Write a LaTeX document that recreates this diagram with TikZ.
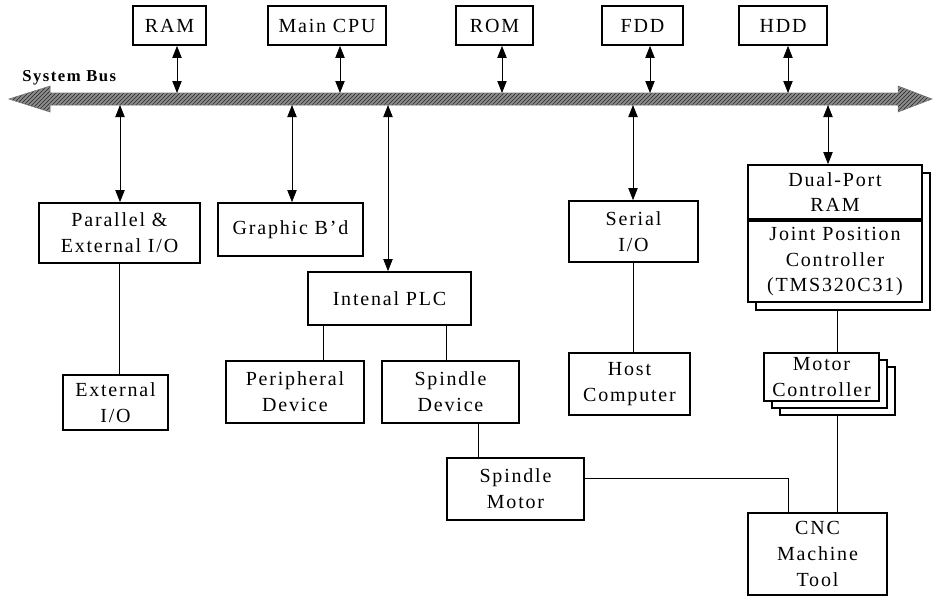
\documentclass[tikz,border=0pt]{standalone}
\usepackage{fontspec}
\setmainfont{Liberation Serif}[LetterSpace=9]
\usetikzlibrary{arrows.meta,patterns}
\newcommand\bx[6]{\node[box, minimum width={(#4-#2)*0.75pt}, minimum height={(#5-#3)*0.75pt}] (#1) at ({(#2+#4)/2},{(#3+#5)/2}) {#6};}
\begin{document}
\begin{tikzpicture}[x=0.75pt,y=-0.75pt,
  box/.style={draw, line width=1.3pt, fill=white, inner sep=0pt, align=center, font=\fontsize{15}{19.3}\selectfont},
  shadowbox/.style={draw, line width=1.3pt, fill=white},
  dbl/.style={line width=0.6pt, {Triangle[length=9pt,width=7pt]}-{Triangle[length=9pt,width=7pt]}},
  wire/.style={line width=0.6pt},
  buslabel/.style={font=\bfseries\fontsize{12.5}{14}\selectfont, anchor=west, inner sep=0pt},
]
\useasboundingbox (0,0) rectangle (937,597);

% system bus
\fill[black!45] (9,99) -- (50,86) -- (50,93) -- (898,93) -- (898,86) -- (932,99) -- (898,112) -- (898,105) -- (50,105) -- (50,112) -- cycle;
\fill[pattern=north east lines, pattern color=black!85] (9,99) -- (50,86) -- (50,93) -- (898,93) -- (898,86) -- (932,99) -- (898,112) -- (898,105) -- (50,105) -- (50,112) -- cycle;
\draw[black!55, line width=0.4pt] (9,99) -- (50,86) -- (50,93) -- (898,93) -- (898,86) -- (932,99) -- (898,112) -- (898,105) -- (50,105) -- (50,112) -- cycle;
\node[buslabel] (bl) at (22,78) {System Bus};

% bus taps
\coordinate (tRAM) at (177,93);
\coordinate (tCPU) at (340,93);
\coordinate (tROM) at (502,93);
\coordinate (tFDD) at (650,93);
\coordinate (tHDD) at (788,93);
\coordinate (bPAR) at (120,105);
\coordinate (bGFX) at (292,105);
\coordinate (bPLC) at (388,105);
\coordinate (bSER) at (633,105);
\coordinate (bDP) at (828,105);

% top boxes
\bx{ram}{133}{6}{206}{45}{RAM}
\bx{cpu}{268}{6}{386}{45}{Main CPU}
\bx{rom}{456}{6}{533}{45}{ROM}
\bx{fdd}{602}{6}{683}{45}{FDD}
\bx{hdd}{739}{6}{827}{45}{HDD}

\draw[dbl] (ram.south -| tRAM) -- (tRAM);
\draw[dbl] (cpu.south -| tCPU) -- (tCPU);
\draw[dbl] (rom.south -| tROM) -- (tROM);
\draw[dbl] (fdd.south -| tFDD) -- (tFDD);
\draw[dbl] (hdd.south -| tHDD) -- (tHDD);

% lower boxes
\bx{par}{39}{203}{200}{263}{Parallel \&\\External I/O}
\bx{gfx}{218}{203}{363}{256}{Graphic B'd}
\bx{ext}{63}{375}{168}{430}{External\\I/O}
\bx{plc}{308}{272}{471}{325}{Intenal PLC}
\bx{per}{226}{361}{364}{423}{Peripheral\\Device}
\bx{spd}{382}{361}{519}{423}{Spindle\\Device}
\bx{mot}{447}{458}{584}{520}{Spindle\\Motor}
\bx{ser}{569}{201}{698}{262}{Serial\\I/O}
\bx{host}{569}{353}{690}{415}{Host\\Computer}

% dual-port + joint controller stack
\draw[shadowbox] (756,173) rectangle (930,310);
\bx{dp}{748}{165}{922}{219}{Dual-Port\\RAM}
\bx{jpc}{748}{221}{922}{302}{Joint Position\\Controller\\(TMS320C31)}

% motor controller stack
\draw[shadowbox] (780,367) rectangle (895,415);
\draw[shadowbox] (772,360) rectangle (887,408);
\bx{mc}{764}{353}{879}{401}{Motor\\Controller}

\bx{cnc}{748}{513}{887}{595}{CNC\\Machine\\Tool}

% bus to lower boxes
\draw[dbl] (bPAR) -- (bPAR |- par.north);
\draw[dbl] (bGFX) -- (bGFX |- gfx.north);
\draw[dbl] (bPLC) -- (bPLC |- plc.north);
\draw[dbl] (bSER) -- (bSER |- ser.north);
\draw[dbl] (bDP) -- (bDP |- dp.north);

% wires
\coordinate (xPE) at (119,0);
\draw[wire] (par.south -| xPE) -- (ext.north -| xPE);
\coordinate (xPP) at (323,0);
\coordinate (xPS) at (446,0);
\draw[wire] (plc.south -| xPP) -- (per.north -| xPP);
\draw[wire] (plc.south -| xPS) -- (spd.north -| xPS);
\coordinate (xSM) at (478,0);
\draw[wire] (spd.south -| xSM) -- (mot.north -| xSM);
\draw[wire] (ser.south -| bSER) -- (host.north -| bSER);
\coordinate (xJ) at (837,310);
\draw[wire] (xJ) -- (mc.north -| xJ);
\coordinate (xM) at (837,415);
\draw[wire] (xM) -- (cnc.north -| xM);
\coordinate (yMot) at (0,478);
\coordinate (xC) at (788,0);
\draw[wire] (mot.east |- yMot) -| (cnc.north -| xC);

\end{tikzpicture}
\end{document}
